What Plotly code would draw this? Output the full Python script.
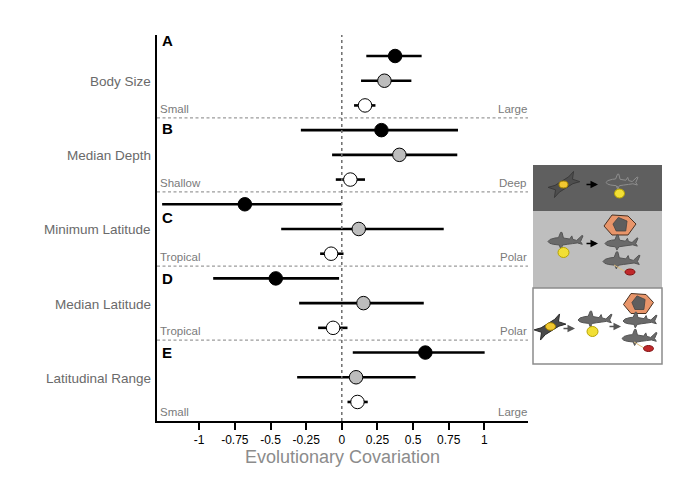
import math
import plotly.graph_objects as go

# ---------------- data ----------------
traits = ["Body Size", "Median Depth", "Minimum Latitude", "Median Latitude", "Latitudinal Range"]
panel_letters = ["A", "B", "C", "D", "E"]
low_labels = ["Small", "Shallow", "Tropical", "Tropical", "Small"]
high_labels = ["Large", "Deep", "Polar", "Polar", "Large"]

# estimates per trait (black, gray, white groups)
black_est = [0.374, 0.278, -0.680, -0.463, 0.586]
black_lo = [0.172, -0.287, -1.260, -0.902, 0.077]
black_hi = [0.560, 0.815, 0.000, -0.019, 1.002]

gray_est = [0.299, 0.404, 0.119, 0.152, 0.100]
gray_lo = [0.135, -0.068, -0.425, -0.299, -0.313]
gray_hi = [0.488, 0.810, 0.715, 0.575, 0.518]

white_est = [0.163, 0.060, -0.075, -0.061, 0.110]
white_lo = [0.086, -0.042, -0.152, -0.166, 0.040]
white_hi = [0.236, 0.163, 0.012, 0.040, 0.182]

tick_vals = [-1, -0.75, -0.5, -0.25, 0, 0.25, 0.5, 0.75, 1]
tick_text = ["-1", "-0.75", "-0.5", "-0.25", "0", "0.25", "0.5", "0.75", "1"]

# ---------------- layout geometry ----------------
# page body has an 8px margin, so the figure is drawn 8px in from the window edge
OFF = 8
FW, FH = 680 - OFF, 478 - OFF
ML, MR, MT, MB = 157 - OFF, 152, 35 - OFF, 57
PW = FW - ML - MR
PH = FH - MT - MB

n = len(traits)
def row_y(k, j):
    return (3 * n - 1) - (3 * k + j)

fig = go.Figure()

groups = [
    (black_est, black_lo, black_hi, "black"),
    (gray_est, gray_lo, gray_hi, "#bdbdbd"),
    (white_est, white_lo, white_hi, "white"),
]
for j, (est, lo, hi, col) in enumerate(groups):
    ys = [row_y(k, j) for k in range(n)]
    fig.add_trace(go.Scatter(
        x=est, y=ys, mode="markers",
        marker=dict(size=13.5, color=col, line=dict(color="black", width=1)),
        error_x=dict(type="data", symmetric=False,
                     array=[h - e for h, e in zip(hi, est)],
                     arrayminus=[e - l for e, l in zip(est, lo)],
                     color="black", thickness=2.6, width=0),
        showlegend=False, hoverinfo="skip",
    ))

shapes = []
annotations = []

# separators
for k in range(1, n):
    ysep = row_y(k, 0) + 0.5
    shapes.append(dict(type="line", xref="paper", x0=0, x1=1, yref="y", y0=ysep, y1=ysep,
                       line=dict(color="#9c9c9c", width=1.2, dash="3px,2.5px")))
# zero line
shapes.append(dict(type="line", xref="x", x0=0, x1=0, yref="paper", y0=0, y1=1,
                   line=dict(color="#6e6e6e", width=1.5, dash="3px,3px")))

FONT = "Liberation Sans, Arial, Helvetica, sans-serif"
letter_y = [14.62, 11.05, 7.47, 5.0, 2.0]
for k in range(n):
    annotations.append(dict(xref="paper", x=0, xanchor="right", xshift=-4,
                            yref="y", y=row_y(k, 1), yshift=-1, text=traits[k], showarrow=False,
                            font=dict(family=FONT, size=13.5, color="#6a6a6a")))
    annotations.append(dict(xref="paper", x=0, xanchor="left", xshift=3,
                            yref="y", y=letter_y[k], text="<b>%s</b>" % panel_letters[k],
                            showarrow=False, font=dict(family=FONT, size=15, color="black")))
    ybot = row_y(k, 2) - 0.5 if k < n - 1 else -0.77
    annotations.append(dict(xref="paper", x=0, xanchor="left", xshift=1,
                            yref="y", y=ybot, yshift=9, text=low_labels[k], showarrow=False,
                            font=dict(family=FONT, size=11.5, color="#7a7a7a")))
    annotations.append(dict(xref="paper", x=1, xanchor="right", xshift=1,
                            yref="y", y=ybot, yshift=9, text=high_labels[k], showarrow=False,
                            font=dict(family=FONT, size=11.5, color="#7a7a7a")))

# ---------------- side illustrations (decorative) ----------------
# P takes window pixel coordinates (as seen in the reference picture)
def P(px, py):
    fx, fy = px - OFF, py - OFF
    return ((fx - ML) / PW, (FH - MB - fy) / PH)

def poly_path(pts):
    s = ""
    for i, (px, py) in enumerate(pts):
        x, y = P(px, py)
        s += ("M" if i == 0 else "L") + "%.5f,%.5f " % (x, y)
    return s + "Z"

def rect(x0, y0, x1, y1, fill, line=None):
    a = P(x0, y1); b = P(x1, y0)
    shapes.append(dict(type="rect", xref="paper", yref="paper", x0=a[0], y0=a[1], x1=b[0], y1=b[1],
                       fillcolor=fill, line=dict(color=line or fill, width=1.5 if line else 0),
                       layer="above"))

def ellipse(cx, cy, rx, ry, fill, line):
    a = P(cx - rx, cy + ry); b = P(cx + rx, cy - ry)
    shapes.append(dict(type="circle", xref="paper", yref="paper", x0=a[0], y0=a[1], x1=b[0], y1=b[1],
                       fillcolor=fill, line=dict(color=line, width=1), layer="above"))

SHARK = [(0, 0), (0.06, 0.06), (0.2, 0.1), (0.3, 0.11), (0.36, 0.26), (0.4, 0.26), (0.44, 0.1),
         (0.62, 0.07), (0.68, 0.16), (0.71, 0.06), (0.82, 0.03), (0.97, 0.17), (1.0, 0.16),
         (0.93, 0.0), (0.98, -0.08), (0.84, -0.04), (0.7, -0.06), (0.55, -0.08), (0.42, -0.1),
         (0.36, -0.2), (0.32, -0.1), (0.15, -0.08), (0.05, -0.05)]

def shark(x0, x1, cy, fill="#6a6a6a", line="#555555", outline_only=False):
    L = x1 - x0
    pts = [(x0 + u * L, cy - v * L) for u, v in SHARK]
    shapes.append(dict(type="path", xref="paper", yref="paper", path=poly_path(pts),
                       fillcolor="rgba(0,0,0,0)" if outline_only else fill,
                       line=dict(color=line, width=1), layer="above"))

EGG = [(-0.75, -0.3), (-0.4, -0.2), (0.4, -0.2), (0.75, -0.3), (0.5, 0), (0.75, 0.3),
       (0.4, 0.2), (-0.4, 0.2), (-0.75, 0.3), (-0.5, 0)]

def egg(cx, cy, L, ang, fill, line):
    a = math.radians(ang)
    pts = []
    for u, v in EGG:
        dx = u * math.cos(a) - v * math.sin(a)
        dy = u * math.sin(a) + v * math.cos(a)
        pts.append((cx + dx * L, cy - dy * L))
    shapes.append(dict(type="path", xref="paper", yref="paper", path=poly_path(pts),
                       fillcolor=fill, line=dict(color=line, width=1), layer="above"))

def hexagon(cx, cy, w, h):
    pts = [(cx - w / 2, cy + 1), (cx - w / 4, cy - h / 2), (cx + w / 4, cy - h / 2 + 1),
           (cx + w / 2, cy - 1), (cx + w / 4, cy + h / 2), (cx - w / 4, cy + h / 2)]
    shapes.append(dict(type="path", xref="paper", yref="paper", path=poly_path(pts),
                       fillcolor="#e8956a", line=dict(color="#4a3020", width=1), layer="above"))
    inner = [(cx - w * 0.22, cy - h * 0.05), (cx - w * 0.05, cy - h * 0.38), (cx + w * 0.22, cy - h * 0.2),
             (cx + w * 0.18, cy + h * 0.3), (cx - w * 0.12, cy + h * 0.3)]
    shapes.append(dict(type="path", xref="paper", yref="paper", path=poly_path(inner),
                       fillcolor="#5e5e5e", line=dict(color="#444444", width=0.8), layer="above"))

def tether(x0, y0, x1, y1, col):
    a = P(x0, y0); b = P(x1, y1)
    shapes.append(dict(type="line", xref="paper", yref="paper", x0=a[0], y0=a[1], x1=b[0], y1=b[1],
                       line=dict(color=col, width=1), layer="above"))

def arrow(x0, x1, y, col="black"):
    e = P(x1, y)
    annotations.append(dict(xref="paper", yref="paper", x=e[0], y=e[1], ax=x0 - x1, ay=0,
                            axref="pixel", ayref="pixel", text="", showarrow=True,
                            arrowhead=2, arrowsize=1, arrowwidth=1.5, arrowcolor=col))

YEL, YEL_L = "#f2df35", "#b8a400"
RED = "#c0282a"

# panels
rect(533, 165, 662, 211, "#5f5f5f")
rect(533, 211, 662, 288, "#bebebe")
rect(533, 288, 662, 364, "white", line="#8c8c8c")

# panel 1
egg(564, 184.5, 20, 32, "#4e4e4e", "#3a3a3a")
ellipse(563.5, 184.5, 4.5, 3.5, "#f2c830", "#a08000")
arrow(585, 598, 184.5)
shark(606, 638, 182.5, line="#8e8e8e", outline_only=True)
tether(617, 186, 619, 189, "#8e8e8e")
ellipse(619.5, 193.5, 5, 4.5, YEL, YEL_L)

# panel 2
shark(548, 583, 241.5)
tether(562, 246, 563, 249, "#777777")
ellipse(563.5, 252.5, 5.5, 5, YEL, YEL_L)
arrow(585, 598, 243.5)
hexagon(620, 225, 32, 20)
shark(605, 638, 243.5)
shark(603, 640, 261.5)
tether(614, 265, 626, 272, "#e0c080")
ellipse(630, 272, 5, 3, RED, "#801010")

# panel 3
egg(550, 327, 20, 32, "#4a4a4a", "#2a2a2a")
ellipse(550.5, 326.5, 5, 3.8, "#f2c830", "#a08000")
arrow(562, 575, 328.5, col="#555555")
shark(578, 612, 320)
tether(591, 324, 592, 327, "#777777")
ellipse(592.5, 331.5, 5.5, 5, YEL, YEL_L)
arrow(608, 621, 326.5, col="#555555")
hexagon(638.5, 303.5, 30, 20)
shark(623, 657, 321)
shark(622, 657, 338.5)
tether(634, 342, 644, 348, "#e0c080")
ellipse(648.5, 348.5, 5, 3, RED, "#801010")

fig.update_layout(
    width=FW, height=FH,
    margin=dict(l=ML, r=MR, t=MT, b=MB, pad=0),
    paper_bgcolor="white", plot_bgcolor="white",
    shapes=shapes, annotations=annotations,
    font=dict(family=FONT),
    xaxis=dict(range=[-1.296, 1.306], tickvals=tick_vals, ticktext=tick_text,
               showgrid=False, zeroline=False, showline=True, linecolor="black", linewidth=1.5,
               ticks="outside", ticklen=7, tickwidth=1.5, tickcolor="black",
               tickfont=dict(family=FONT, size=12, color="black"),
               title=dict(text="Evolutionary Covariation", standoff=2,
                          font=dict(family=FONT, size=18, color="#8c8c8c"))),
    yaxis=dict(range=[-0.77, 14.85], showticklabels=False, ticks="", showgrid=False,
               zeroline=False, showline=True, linecolor="black", linewidth=2),
)

fig.write_html("out.html")
